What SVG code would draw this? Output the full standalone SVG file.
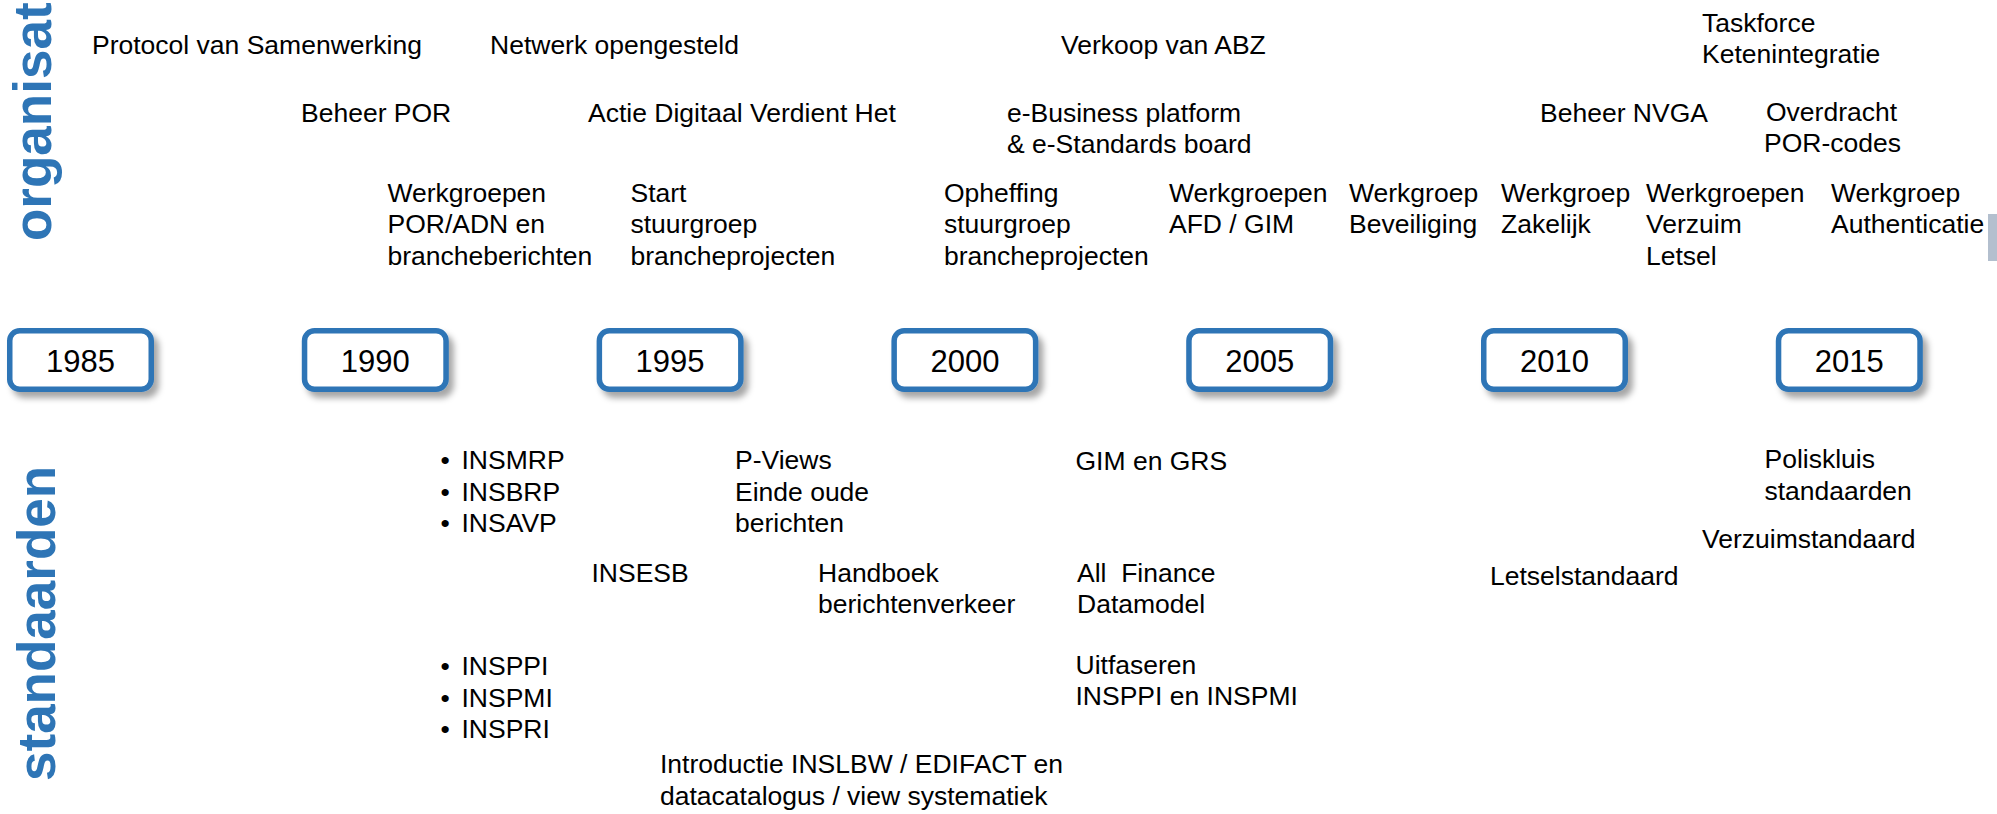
<svg xmlns="http://www.w3.org/2000/svg" width="1997" height="814" viewBox="0 0 1997 814">
<defs>
<style>
text{font-family:"Liberation Sans",Arial,sans-serif;font-size:26.5px;fill:#000}
.title{font-weight:bold;font-size:53px;fill:#2E75B6}
.year{font-size:31px;text-anchor:middle}
.box{fill:#fff;stroke:#2E75B6;stroke-width:5.5}
</style>
<filter id="sh" x="-20%" y="-30%" width="150%" height="180%">
<feDropShadow dx="5" dy="6" stdDeviation="3" flood-color="#000" flood-opacity="0.35"/>
</filter>
</defs>
<rect width="1997" height="814" fill="#fff"/>
<g id="titles">
<text class="title" transform="translate(50.5,241) rotate(-90)">organisat</text>
<text class="title" transform="translate(54.5,781) rotate(-90)">standaarden</text>
</g>
<g id="years">
<g id="y1985"><rect class="box" filter="url(#sh)" x="9.75" y="330.75" width="141.5" height="58.5" rx="10"/><text class="year" x="80.5" y="371.7">1985</text></g>
<g id="y1990"><rect class="box" filter="url(#sh)" x="304.55" y="330.75" width="141.5" height="58.5" rx="10"/><text class="year" x="375.3" y="371.7">1990</text></g>
<g id="y1995"><rect class="box" filter="url(#sh)" x="599.35" y="330.75" width="141.5" height="58.5" rx="10"/><text class="year" x="670.1" y="371.7">1995</text></g>
<g id="y2000"><rect class="box" filter="url(#sh)" x="894.15" y="330.75" width="141.5" height="58.5" rx="10"/><text class="year" x="964.9" y="371.7">2000</text></g>
<g id="y2005"><rect class="box" filter="url(#sh)" x="1188.95" y="330.75" width="141.5" height="58.5" rx="10"/><text class="year" x="1259.7" y="371.7">2005</text></g>
<g id="y2010"><rect class="box" filter="url(#sh)" x="1483.75" y="330.75" width="141.5" height="58.5" rx="10"/><text class="year" x="1554.5" y="371.7">2010</text></g>
<g id="y2015"><rect class="box" filter="url(#sh)" x="1778.55" y="330.75" width="141.5" height="58.5" rx="10"/><text class="year" x="1849.3" y="371.7">2015</text></g>
</g>
<g id="organisatie">
<g id="o-protocol"><text x="92" y="54">Protocol van Samenwerking</text></g>
<g id="o-netwerk"><text x="490" y="54">Netwerk opengesteld</text></g>
<g id="o-verkoop"><text x="1061" y="54">Verkoop van ABZ</text></g>
<g id="o-taskforce"><text x="1702" y="31.7">Taskforce</text><text x="1702" y="63.3">Ketenintegratie</text></g>
<g id="o-beheerpor"><text x="301" y="121.7">Beheer POR</text></g>
<g id="o-actie"><text x="588" y="121.7">Actie Digitaal Verdient Het</text></g>
<g id="o-ebusiness"><text x="1007" y="121.7">e-Business platform</text><text x="1007" y="153.3">&amp; e-Standards board</text></g>
<g id="o-nvga"><text x="1540" y="121.7">Beheer NVGA</text></g>
<g id="o-overdracht"><text x="1766" y="120.5">Overdracht</text><text x="1764" y="152">POR-codes</text></g>
<g id="o-wg-por"><text x="387.5" y="201.5">Werkgroepen</text><text x="387.5" y="233.3">POR/ADN en</text><text x="387.5" y="265.1">brancheberichten</text></g>
<g id="o-start"><text x="630.5" y="201.5">Start</text><text x="630.5" y="233.3">stuurgroep</text><text x="630.5" y="265.1">brancheprojecten</text></g>
<g id="o-opheffing"><text x="944" y="201.5">Opheffing</text><text x="944" y="233.3">stuurgroep</text><text x="944" y="265.1">brancheprojecten</text></g>
<g id="o-wg-afd"><text x="1169" y="201.5">Werkgroepen</text><text x="1169" y="233.3">AFD / GIM</text></g>
<g id="o-wg-bev"><text x="1349" y="201.5">Werkgroep</text><text x="1349" y="233.3">Beveiliging</text></g>
<g id="o-wg-zak"><text x="1501" y="201.5">Werkgroep</text><text x="1501" y="233.3">Zakelijk</text></g>
<g id="o-wg-verz"><text x="1646" y="201.5">Werkgroepen</text><text x="1646" y="233.3">Verzuim</text><text x="1646" y="265.1">Letsel</text></g>
<g id="o-wg-auth"><text x="1831" y="201.5">Werkgroep</text><text x="1831" y="233.3">Authenticatie</text></g>
</g>
<g id="standaarden">
<g id="s-ins1"><text x="440.5" y="469">•</text><text x="461.5" y="469">INSMRP</text><text x="440.5" y="500.7">•</text><text x="461.5" y="500.7">INSBRP</text><text x="440.5" y="532.4">•</text><text x="461.5" y="532.4">INSAVP</text></g>
<g id="s-pviews"><text x="735" y="469">P-Views</text><text x="735" y="500.7">Einde oude</text><text x="735" y="532.4">berichten</text></g>
<g id="s-insesb"><text x="591.5" y="581.7">INSESB</text></g>
<g id="s-handboek"><text x="818" y="581.7">Handboek</text><text x="818" y="613.3">berichtenverkeer</text></g>
<g id="s-ins2"><text x="440.5" y="675">•</text><text x="461.5" y="675">INSPPI</text><text x="440.5" y="706.7">•</text><text x="461.5" y="706.7">INSPMI</text><text x="440.5" y="738.3">•</text><text x="461.5" y="738.3">INSPRI</text></g>
<g id="s-intro"><text x="660" y="773.3">Introductie INSLBW / EDIFACT en</text><text x="660" y="805">datacatalogus / view systematiek</text></g>
<g id="s-gim"><text x="1075.5" y="470">GIM en GRS</text></g>
<g id="s-allfinance"><text x="1077" y="581.7" xml:space="preserve">All  Finance</text><text x="1077" y="613.3">Datamodel</text></g>
<g id="s-uitfaseren"><text x="1075.5" y="673.8">Uitfaseren</text><text x="1075.5" y="705.4">INSPPI en INSPMI</text></g>
<g id="s-letsel"><text x="1490" y="585">Letselstandaard</text></g>
<g id="s-verzuim"><text x="1702" y="548.3">Verzuimstandaard</text></g>
<g id="s-polis"><text x="1764.5" y="468.3">Poliskluis</text><text x="1764.5" y="500">standaarden</text></g>
</g>
<rect x="1988" y="214" width="9" height="47" fill="#B3BFCE"/>
<g id="connectors"/>
</svg>
